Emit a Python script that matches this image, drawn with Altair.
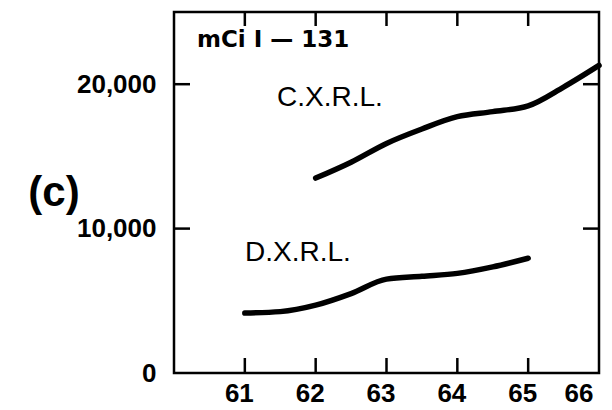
import altair as alt
import pandas as pd

# Data
years_c = [62, 62.5, 63, 63.5, 64, 64.5, 65, 65.5, 66]
cxrl = [13500, 14600, 15900, 16900, 17750, 18100, 18500, 19800, 21300]
years_d = [61, 61.5, 62, 62.5, 63, 63.5, 64, 64.5, 65]
dxrl = [4150, 4250, 4700, 5500, 6500, 6700, 6900, 7350, 7950]

x_tick_labels = [61, 62, 63, 64, 65, 66]
x_tick_marks = [61, 62, 63, 64, 65]
y_ticks = [0, 10000, 20000]
y_tick_marks = [10000, 20000]

df = pd.concat([
    pd.DataFrame({"year": years_c, "mci": cxrl, "lab": "C.X.R.L."}),
    pd.DataFrame({"year": years_d, "mci": dxrl, "lab": "D.X.R.L."}),
])
xt = pd.DataFrame({"year": x_tick_marks})
yt = pd.DataFrame({"mci": y_tick_marks})

W, H = 425, 361
LAB_FONT = "Liberation Sans"

xscale = alt.Scale(domain=[60, 66], nice=False, zero=False)
yscale = alt.Scale(domain=[0, 25000], nice=False)

xaxis = alt.Axis(values=x_tick_labels, title=None, domain=False, ticks=False,
                 grid=False, labelFont=LAB_FONT, labelFontWeight="bold",
                 labelFontSize=26, labelColor="black", labelPadding=7,
                 labelOffset=-6, format="d")
yaxis = alt.Axis(values=y_ticks, title=None, domain=False, ticks=False,
                 grid=False, labelFont=LAB_FONT, labelFontWeight="bold",
                 labelFontSize=26, labelColor="black", labelPadding=18,
                 format=",d")

lines = alt.Chart(df).mark_line(color="black", strokeWidth=5.5, strokeCap="round",
                                interpolate="monotone").encode(
    x=alt.X("year:Q", scale=xscale, axis=xaxis),
    y=alt.Y("mci:Q", scale=yscale, axis=yaxis),
    detail="lab:N",
)

bottom_ticks = alt.Chart(xt).mark_rule(color="black", strokeWidth=2.5).encode(
    x=alt.X("year:Q", scale=xscale, axis=xaxis), y=alt.value(H), y2=alt.value(H - 15))
top_ticks = alt.Chart(xt).mark_rule(color="black", strokeWidth=2.5).encode(
    x=alt.X("year:Q", scale=xscale, axis=xaxis), y=alt.value(0), y2=alt.value(14))
left_ticks = alt.Chart(yt).mark_rule(color="black", strokeWidth=2.5).encode(
    y=alt.Y("mci:Q", scale=yscale, axis=yaxis), x=alt.value(0), x2=alt.value(16))
right_ticks = alt.Chart(yt).mark_rule(color="black", strokeWidth=2.5).encode(
    y=alt.Y("mci:Q", scale=yscale, axis=yaxis), x=alt.value(W), x2=alt.value(W - 16))

one = alt.Data(values=[{"a": 1}])

def label(txt, x, y, font, size, weight, align="left"):
    return alt.Chart(one).mark_text(font=font, fontSize=size, fontWeight=weight,
                                    align=align, baseline="middle",
                                    color="black").encode(
        x=alt.value(x), y=alt.value(y), text=alt.value(txt))

t_unit = label("mCi  I \u2014 131", 23, 28, "DejaVu Sans", 23, "bold")
t_c = label("C.X.R.L.", 103, 86, "Liberation Sans", 28, "normal")
t_d = label("D.X.R.L.", 71, 241, "Liberation Sans", 28, "normal")
t_panel = label("(c)", -120, 181, LAB_FONT, 42, "bold", align="center")

chart = alt.layer(
    lines, bottom_ticks, top_ticks, left_ticks, right_ticks,
    t_unit, t_c, t_d, t_panel,
).properties(
    width=W, height=H,
    autosize=alt.AutoSizeParams(type="none"),
    padding={"left": 166, "top": 4, "right": 5, "bottom": 37},
    background="white",
).configure_view(stroke="black", strokeWidth=2.5)

chart.save("out.html", embed_options={"renderer": "svg", "actions": False})
